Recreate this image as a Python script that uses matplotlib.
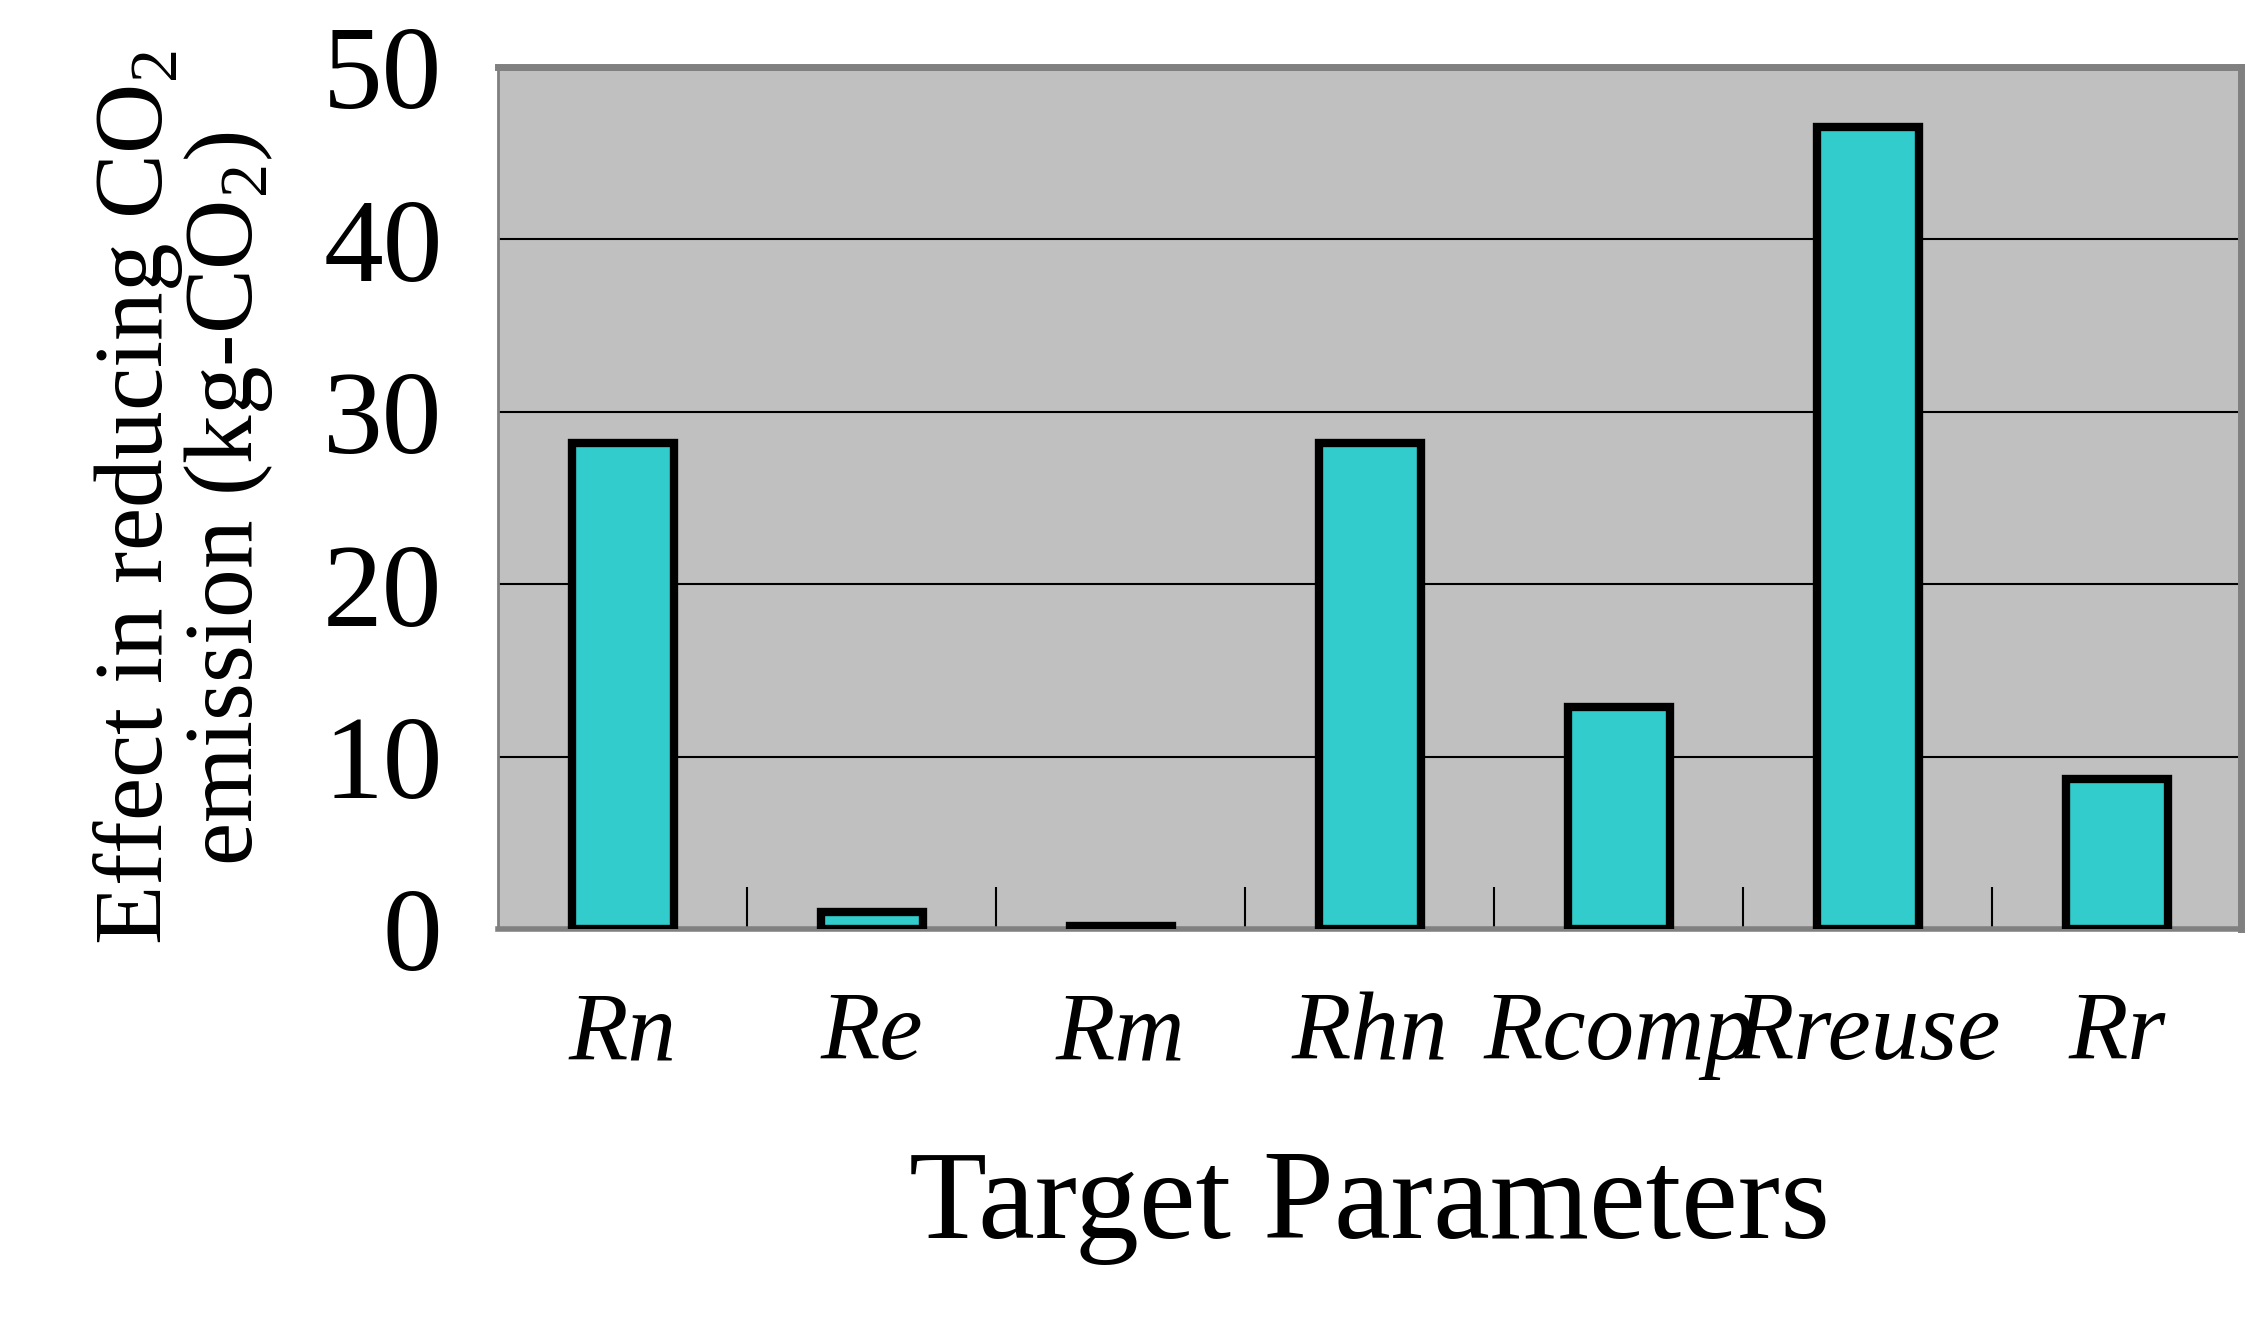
import numpy as np
import matplotlib.pyplot as plt

plt.rcParams['font.family'] = ['Liberation Serif', 'DejaVu Serif']
plt.rcParams['mathtext.fontset'] = 'custom'
plt.rcParams['mathtext.rm'] = 'Liberation Serif'

categories = ['Rn', 'Re', 'Rm', 'Rhn', 'Rcomp', 'Rreuse', 'Rr']
values = [28.2, 1.0, 0.2, 28.2, 12.9, 46.5, 8.7]

fig = plt.figure(figsize=(22.64, 13.37), dpi=100)
ax = fig.add_axes([0.22, 0.305, 0.77, 0.645])
ax.set_facecolor('#C0C0C0')

x = np.arange(len(categories))
ax.bar(x, values, width=0.41, color='#33CCCC', edgecolor='black', linewidth=6, zorder=3)

ax.set_xlim(-0.5, len(categories) - 0.5)
ax.set_ylim(0, 50)
ax.set_yticks([0, 10, 20, 30, 40, 50])
ax.yaxis.grid(True, color='black', linewidth=1.5, zorder=0)
ax.tick_params(axis='y', labelsize=86, length=0, pad=40)

# category labels, with divider ticks between categories
ax.set_xticks(x)
ax.set_xticklabels(categories, fontstyle='italic', fontsize=70)
ax.tick_params(axis='x', length=0, pad=45)
ax.set_xticks(np.arange(0.5, len(categories) - 0.5), minor=True)
ax.tick_params(axis='x', which='minor', direction='in', length=30, width=1.5, color='black')

for s in ['top', 'right']:
    ax.spines[s].set_color('#808080')
    ax.spines[s].set_linewidth(5)
ax.spines['left'].set_color('#808080')
ax.spines['left'].set_linewidth(2)
ax.spines['bottom'].set_color('#808080')
ax.spines['bottom'].set_linewidth(4)

ax.set_xlabel('Target Parameters', fontsize=92, labelpad=50)
ax.set_ylabel('Effect in reducing CO$_2$\nemission (kg-CO$_2$)', fontsize=70, labelpad=35,
              linespacing=0.95)

plt.savefig('out.png', dpi=100)
